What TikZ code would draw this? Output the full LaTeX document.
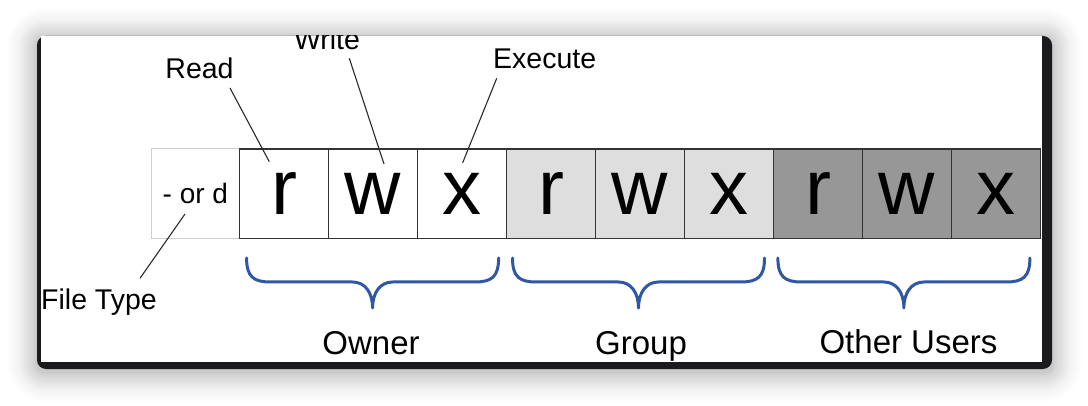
\documentclass[tikz,border=0pt]{standalone}
\usepackage{fontspec}
\setmainfont{Liberation Sans}
\definecolor{framedark}{HTML}{1B1B1D}
\definecolor{cellline}{HTML}{333333}
\definecolor{typeline}{HTML}{CFCFCF}
\definecolor{groupfill}{HTML}{DEDEDE}
\definecolor{otherfill}{HTML}{979797}
\definecolor{braceblue}{HTML}{2F57A4}
\definecolor{leader}{HTML}{2A2A2A}
\begin{document}
\begin{tikzpicture}[x=1pt,y=-1pt,
  cell/.style={draw=cellline, line width=1.3pt, minimum width=89pt, minimum height=89.5pt,
    inner sep=0pt, font=\fontsize{78}{78}\selectfont},
  typecell/.style={draw=typeline, line width=1pt, fill=white, minimum width=88.3pt,
    minimum height=89.5pt, inner sep=0pt, font=\fontsize{28}{28}\selectfont},
  toplabel/.style={anchor=base, inner sep=0pt, font=\fontsize{28.5}{28.5}\selectfont},
  grouplabel/.style={anchor=base, inner sep=0pt, font=\fontsize{33}{33}\selectfont},
  leaderline/.style={draw=leader, line width=1.1pt},
  ubrace/.pic={
    \draw[braceblue, line width=3pt, line cap=round, line join=round]
      (-126,-50) .. controls (-126,-31) and (-119,-26) .. (-102,-26)
      -- (-20,-26) .. controls (-8,-26) and (0,-16) .. (0,0)
      .. controls (0,-16) and (8,-26) .. (20,-26)
      -- (102,-26) .. controls (119,-26) and (126,-31) .. (126,-50);
  }]
\useasboundingbox (0,0) rectangle (1088,406);
\fill[white] (0,0) rectangle (1088,406);

% soft shadow behind the window: layers get fainter further out
\foreach \k in {1,...,36}{
  \pgfmathsetmacro{\op}{0.0115*(1-\k/37)}
  \fill[black, opacity=\op, rounded corners=(8+\k)*1pt]
    (37-\k,38-\k) rectangle (1052+\k,372+\k);
}

% window frame and panel
\fill[framedark, rounded corners=9pt] (37,36) rectangle (1052,369);
\fill[white] (41,36) rectangle (1042,362);

\begin{scope}
\clip (41,36) rectangle (1042,362);

% permission cells
\node[typecell] (ft) at (195.35,193.75) {- or d};
\node[cell, fill=white]     (ur) at (284,193.75) {r};
\node[cell, fill=white]     (uw) at (373,193.75) {w};
\node[cell, fill=white]     (ux) at (462,193.75) {x};
\node[cell, fill=groupfill] (gr) at (551,193.75) {r};
\node[cell, fill=groupfill] (gw) at (640,193.75) {w};
\node[cell, fill=groupfill] (gx) at (729,193.75) {x};
\node[cell, fill=otherfill] (orr) at (818,193.75) {r};
\node[cell, fill=otherfill] (ow) at (907,193.75) {w};
\node[cell, fill=otherfill] (ox) at (996,193.75) {x};

% labels above and below
\node[toplabel] (readlbl) at (199.5,79) {Read};
\node[toplabel] (writelbl) at (327,50) {Write};
\node[toplabel] (execlbl) at (544.7,68.3) {Execute};
\node[toplabel] (typelbl) at (99,310) {File Type};

% leader lines
\coordinate (readtail) at (230,88);
\coordinate (readtip) at (269.3,161.7);
\coordinate (writetail) at (349.3,58.3);
\coordinate (writetip) at (384,164);
\coordinate (exectail) at (496.7,78.3);
\coordinate (exectip) at (462.7,162.7);
\coordinate (typetail) at (140,278.3);
\coordinate (typetip) at (185,214);
\draw[leaderline] (readtail) -- (readtip);
\draw[leaderline] (writetail) -- (writetip);
\draw[leaderline] (exectail) -- (exectip);
\draw[leaderline] (typetail) -- (typetip);

% braces grouping the classes
\pic at (372.6,308) {ubrace};
\pic at (638.5,308) {ubrace};
\pic at (903.9,308) {ubrace};

\node[grouplabel] (ownerlbl) at (371,354.8) {Owner};
\node[grouplabel] (grouplbl) at (641,354.8) {Group};
\node[grouplabel] (otherlbl) at (908.5,353.8) {Other Users};
\end{scope}
\end{tikzpicture}
\end{document}
